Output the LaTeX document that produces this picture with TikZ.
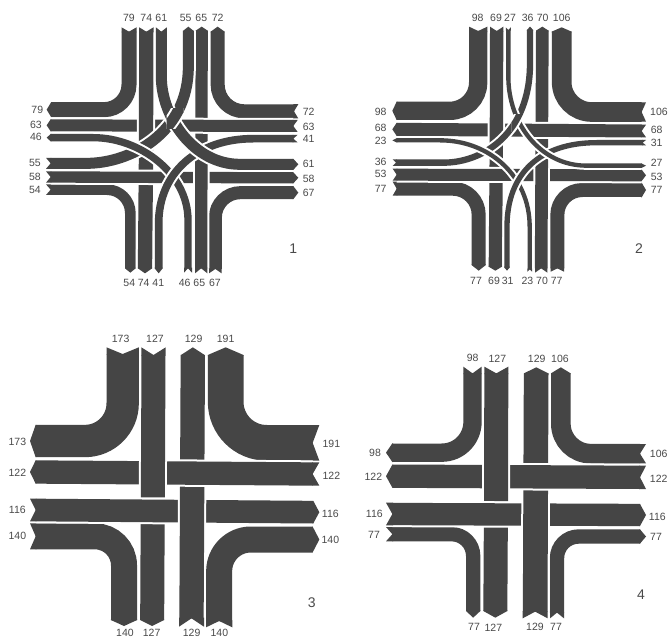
\documentclass[tikz,border=0pt]{standalone}
\usepackage{fontspec}
\setmainfont{Liberation Sans}
\definecolor{bandc}{HTML}{454545}
\definecolor{labc}{HTML}{4A4A4A}
\tikzset{
  panel/.style={x=.33333pt,y=-.33333pt},
  lab/.style={inner sep=0pt,text=labc,font=\fontsize{10.5}{12}\selectfont},
  big/.style={inner sep=0pt,text=labc,font=\fontsize{14}{16}\selectfont},
}
% band: width (zoom units), path
\newcommand\band[2]{%
  \draw[white,line width=(#1+12)*.33333pt] #2;
  \draw[bandc,line width=#1*.33333pt] #2;}
% turn: width, corner radius, path
\newcommand\turn[3]{%
  \draw[white,line width=(#1+12)*.33333pt,rounded corners=#2*.33333pt] #3;
  \draw[bandc,line width=#1*.33333pt,rounded corners=#2*.33333pt] #3;}
% caps: x, y, ux, uy, w, d
\newcommand\capP[6]{\fill[bandc]
  ({#1+(#4)*#5/2-(#3)*2},{#2+(#3)*#5/2-(#4)*2}) --
  ({#1+(#4)*#5/2},{#2+(#3)*#5/2}) --
  ({#1+(#3)*#6},{#2+(#4)*#6}) --
  ({#1-(#4)*#5/2},{#2-(#3)*#5/2}) --
  ({#1-(#4)*#5/2-(#3)*2},{#2-(#3)*#5/2-(#4)*2}) -- cycle;}
\newcommand\capN[6]{\fill[bandc]
  ({#1+(#4)*#5/2-(#3)*2},{#2+(#3)*#5/2-(#4)*2}) --
  ({#1+(#4)*#5/2+(#3)*#6},{#2+(#3)*#5/2+(#4)*#6}) --
  ({#1},{#2}) --
  ({#1-(#4)*#5/2+(#3)*#6},{#2-(#3)*#5/2+(#4)*#6}) --
  ({#1-(#4)*#5/2-(#3)*2},{#2-(#3)*#5/2-(#4)*2}) -- cycle;}
\begin{document}
\begin{tikzpicture}[x=1pt,y=-1pt]
\useasboundingbox (0,0) rectangle (668,639);
\fill[white] (0,0) rectangle (668,639);

%% ---------- panel 1
\begin{scope}[shift={(20pt,0pt)},panel]
\turn{45}{75}{(327,95)--(327,329)--(93,329)}
\capN{327}{95}{0}{-1}{45}{13} \capP{93}{329}{-1}{0}{43}{13}
\turn{42}{80}{(593,95)--(593,334)--(822,334)}
\capP{593}{95}{0}{-1}{42}{15} \capN{822}{334}{1}{0}{43}{13}
\turn{32}{70}{(92,569)--(331,569)--(331,805)}
\capN{92}{569}{-1}{0}{32}{14} \capP{331}{805}{0}{1}{32}{13}
\turn{39}{75}{(820,578)--(586,578)--(586,807)}
\capP{820}{578}{1}{0}{39}{15} \capN{586}{807}{0}{1}{38}{13}
\band{43}{(379,350)--(375,805)}
\capP{375}{805}{0}{1}{43}{15}
\band{34}{(92,531)--(820,533.5)}
\capN{92}{531}{-1}{0}{34}{14} \capP{820}{533.5}{1}{0}{33}{15}
\band{37}{(545,92)--(543.5,805)}
\capP{545}{92}{0}{-1}{36}{12} \capN{543.5}{805}{0}{1}{37}{15}
\band{36}{(92,376)--(820,378)}
\capP{92}{376}{-1}{0}{36}{12} \capN{820}{378}{1}{0}{36}{13}
\band{43}{(379,95)--(378,428)}
\capN{379}{95}{0}{-1}{43}{13}
\band{33}{(505,92)--(505,200) .. controls (505,400) and (330,490) .. (200,490)--(92,490)}
\capP{505}{92}{0}{-1}{30}{12} \capN{92}{490}{-1}{0}{33}{14}
\band{22}{(92,413)--(220,413) .. controls (360,413) and (504,520) .. (504,660)--(504,805)}
\capP{92}{413}{-1}{0}{22}{12} \capN{504}{805}{0}{1}{24}{13}
\band{23}{(820,416)--(700,416) .. controls (530,416) and (416,520) .. (416,670)--(416,805)}
\capN{820}{416}{1}{0}{23}{13} \capP{416}{805}{0}{1}{24}{15}
\band{33}{(424,95)--(424,230) .. controls (424,350) and (520,493) .. (660,493)--(820,493)}
\capN{424}{95}{0}{-1}{33}{13} \capP{820}{493}{1}{0}{33}{15}
\begin{scope}
  \clip (440,325) rectangle (490,385);
  \band{33}{(505,92)--(505,200) .. controls (505,400) and (330,490) .. (200,490)--(92,490)}
\end{scope}
\foreach \t/\x/\y [count=\i] in {79/327/55,74/379/55,61/424/55,55/497/55,65/544/55,72/593/55,
  79/52/330,63/48/375,46/48/412,55/45/490,58/45/530,54/45/570,
  72/866/335,63/866/381,41/866/418,61/866/492,58/866/537,67/866/578,
  54/328/848,74/371/848,41/415/848,46/494/848,65/538/848,67/585/848}
  \node[lab] (pa\i) at (\x,\y) {\t};
\node[big] (pan1) at (820,745) {1};
\end{scope}

%% ---------- panel 2
\begin{scope}[shift={(340pt,0pt)},panel]
\turn{55}{85}{(414.5,93)--(414.5,332.5)--(170,332.5)}
\capN{414.5}{93}{0}{-1}{55}{13} \capP{170}{332.5}{-1}{0}{55}{13}
\turn{59}{90}{(665,95)--(665,336)--(905,336)}
\capP{665}{95}{0}{-1}{60}{13} \capN{905}{336}{1}{0}{58}{13}
\turn{42}{78}{(170,566)--(416,566)--(416,795)}
\capN{170}{566}{-1}{0}{42}{12} \capP{416}{795}{0}{1}{43}{17}
\turn{42}{75}{(905,570)--(652,570)--(652,805)}
\capP{905}{570}{1}{0}{44}{13} \capN{652}{805}{0}{1}{40}{10}
\band{40}{(469,430)--(466,800)}
\capP{466}{800}{0}{1}{40}{12}
\band{36}{(170,524)--(905,526)}
\capN{170}{524}{-1}{0}{36}{12} \capP{905}{526}{1}{0}{34}{13}
\band{38}{(607,92)--(603.5,805)}
\capP{607}{92}{0}{-1}{38}{12} \capN{603.5}{805}{0}{1}{37}{13}
\band{39}{(170,388)--(905,393)}
\capP{170}{388}{-1}{0}{39}{13} \capN{905}{393}{1}{0}{38}{13}
\band{40}{(470,93)--(469,430)}
\capN{470}{93}{0}{-1}{40}{13}
\band{19}{(570,90)--(570,190) .. controls (570,400) and (430,488) .. (310,488)--(168,488)}
\capP{570}{90}{0}{-1}{19}{10} \capN{168}{488}{-1}{0}{20}{10}
\band{13}{(170,421)--(300,421) .. controls (450,421) and (569,530) .. (569,680)--(569,808)}
\capP{170}{421}{-1}{0}{13}{13} \capN{569}{808}{0}{1}{14}{7}
\band{16}{(908,428)--(770,428) .. controls (600,428) and (501,520) .. (501,680)--(501,802)}
\capN{908}{428}{1}{0}{16}{10} \capP{501}{802}{0}{1}{17}{10}
\band{13}{(505,90)--(505,230) .. controls (505,370) and (600,497) .. (740,497)--(905,497)}
\capN{505}{90}{0}{-1}{15}{8} \capP{905}{497}{1}{0}{13}{13}
\begin{scope}
  \clip (515,345) rectangle (560,395);
  \band{19}{(570,90)--(570,190) .. controls (570,400) and (430,488) .. (310,488)--(168,488)}
\end{scope}
\foreach \t/\x/\y [count=\i] in {98/413/55,69/468/55,27/510/55,36/563/55,70/608/55,106/665/55,
  98/122/335,68/122/385,23/122/422,36/122/487,53/122/523,77/122/568,
  106/957/337,68/950/390,31/950/430,27/950/490,53/950/530,77/950/570,
  77/408/843,69/462/843,31/503/843,23/562/843,70/606/843,77/650/843}
  \node[lab] (pb\i) at (\x,\y) {\t};
\node[big] (pan2) at (897,745) {2};
\end{scope}

%% ---------- panel 3
\begin{scope}[shift={(0pt,-330pt)},panel]
\turn{97}{113}{(368,72)--(368,333)--(107,333)}
\capN{368}{72}{0}{-1}{97}{20} \capP{107}{333}{-1}{0}{97}{17}
\turn{107}{123}{(677,75)--(677,338.5)--(938,338.5)}
\capP{677}{75}{0}{-1}{107}{23} \capN{938}{338.5}{1}{0}{107}{20}
\turn{78}{87}{(107,619)--(372,619)--(372,870)}
\capN{107}{619}{-1}{0}{78}{17} \capP{372}{870}{0}{1}{79}{18}
\turn{78}{95}{(938,628.5)--(657.5,628.5)--(657.5,873)}
\capP{938}{628.5}{1}{0}{77}{20} \capN{657.5}{873}{0}{1}{79}{19}
\band{72}{(458,578)--(456.5,870)}
\capP{456.5}{870}{0}{1}{72}{18}
\band{68}{(107,540)--(940,546.5)}
\capN{107}{540}{-1}{0}{68}{17} \capP{940}{546.5}{1}{0}{67}{18}
\band{73}{(578.5,75)--(574.5,865)}
\capP{578.5}{75}{0}{-1}{71}{23} \capN{574.5}{865}{0}{1}{75}{25}
\band{70}{(107,426)--(938,432)}
\capP{107}{426}{-1}{0}{70}{17} \capN{938}{432}{1}{0}{70}{20}
\band{72}{(460.5,75)--(458.5,502)}
\capN{460.5}{75}{0}{-1}{73}{23}
\foreach \t/\x/\y [count=\i] in {173/362/27,127/465/27,129/581/27,191/677/27,
  173/52/335,122/52/427,116/52/540,140/52/618,
  191/994/343,122/994/438,116/991/551,140/991/630,
  140/375/908,127/455/908,129/575/908,140/658/908}
  \node[lab] (pc\i) at (\x,\y) {\t};
\node[big] (pan3) at (935,818) {3};
\end{scope}

%% ---------- panel 4
\begin{scope}[shift={(340pt,-330pt)},panel]
\turn{55}{92}{(397.5,130)--(397.5,368)--(157,368)}
\capN{397.5}{130}{0}{-1}{55}{20} \capP{157}{368}{-1}{0}{56}{19}
\turn{59}{90}{(662.5,130)--(662.5,371)--(900,371)}
\capP{662.5}{130}{0}{-1}{59}{18} \capN{900}{371}{1}{0}{58}{18}
\turn{43}{65}{(157,612.5)--(399.5,612.5)--(399.5,843)}
\capN{157}{612.5}{-1}{0}{43}{19} \capP{399.5}{843}{0}{1}{43}{20}
\turn{43}{65}{(900,619.5)--(651,619.5)--(651,848)}
\capP{900}{619.5}{1}{0}{43}{18} \capN{651}{848}{0}{1}{42}{17}
\band{72}{(467.5,588)--(466,843)}
\capP{466}{843}{0}{1}{72}{20}
\band{67}{(157,552)--(900,555)}
\capN{157}{552}{-1}{0}{68}{19} \capP{900}{555}{1}{0}{66}{18}
\band{74}{(588.5,130)--(585.5,845)}
\capP{588.5}{130}{0}{-1}{73}{18} \capN{585.5}{845}{0}{1}{75}{20}
\band{70}{(157,438.5)--(900,442)}
\capP{157}{438.5}{-1}{0}{69}{19} \capN{900}{442}{1}{0}{70}{18}
\band{72}{(469,130)--(468,513)}
\capN{469}{130}{0}{-1}{72}{20}
\foreach \t/\x/\y [count=\i] in {98/398/85,127/472/85,129/590/87,106/660/87,
  98/105/368,122/100/440,116/103/552,77/102/615,
  106/956/373,122/956/446,116/952/560,77/948/621,
  77/402/892,127/460/892,129/585/892,77/648/892}
  \node[lab] (pd\i) at (\x,\y) {\t};
\node[big] (pan4) at (903,795) {4};
\end{scope}
\end{tikzpicture}
\end{document}
